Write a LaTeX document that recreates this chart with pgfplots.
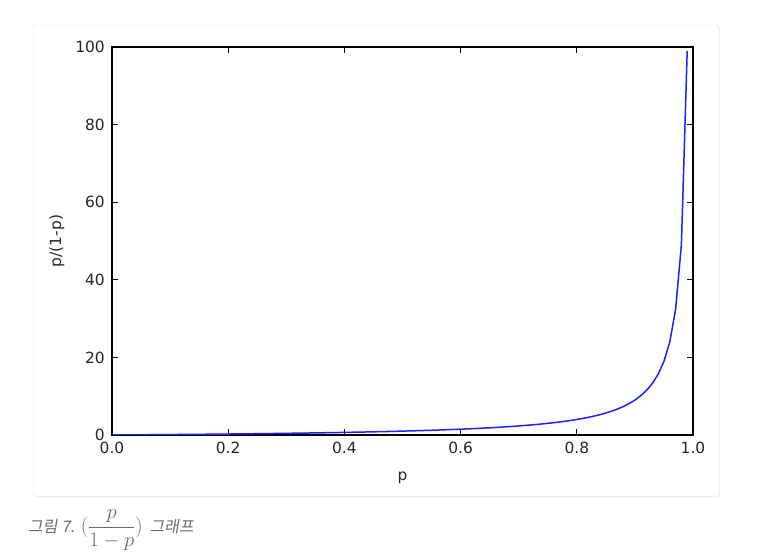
\documentclass[border=0pt]{standalone}
\usepackage[no-math]{fontspec}
\setmainfont{DejaVu Sans}
\newfontfamily\cjk[FakeSlant=0.18]{Noto Sans CJK KR}
\usepackage{amsmath}
\usepackage{pgfplots}
\pgfplotsset{compat=1.18}
\definecolor{ticktext}{HTML}{262626}
\definecolor{captext}{HTML}{6A6A6A}
\pgfplotstableread{
p r
0.00 0
0.01 0.0101
0.02 0.0204
0.03 0.0309
0.04 0.0417
0.05 0.0526
0.06 0.0638
0.07 0.0753
0.08 0.0870
0.09 0.0989
0.10 0.1111
0.11 0.1236
0.12 0.1364
0.13 0.1494
0.14 0.1628
0.15 0.1765
0.16 0.1905
0.17 0.2048
0.18 0.2195
0.19 0.2346
0.20 0.25
0.21 0.2658
0.22 0.2821
0.23 0.2987
0.24 0.3158
0.25 0.3333
0.26 0.3514
0.27 0.3699
0.28 0.3889
0.29 0.4085
0.30 0.4286
0.31 0.4493
0.32 0.4706
0.33 0.4925
0.34 0.5152
0.35 0.5385
0.36 0.5625
0.37 0.5873
0.38 0.6129
0.39 0.6393
0.40 0.6667
0.41 0.6949
0.42 0.7241
0.43 0.7544
0.44 0.7857
0.45 0.8182
0.46 0.8519
0.47 0.8868
0.48 0.9231
0.49 0.9608
0.50 1.0000
0.51 1.0408
0.52 1.0833
0.53 1.1277
0.54 1.1739
0.55 1.2222
0.56 1.2727
0.57 1.3256
0.58 1.3810
0.59 1.4390
0.60 1.5000
0.61 1.5641
0.62 1.6316
0.63 1.7027
0.64 1.7778
0.65 1.8571
0.66 1.9412
0.67 2.0303
0.68 2.1250
0.69 2.2258
0.70 2.3333
0.71 2.4483
0.72 2.5714
0.73 2.7037
0.74 2.8462
0.75 3.0000
0.76 3.1667
0.77 3.3478
0.78 3.5455
0.79 3.7619
0.80 4.0000
0.81 4.2632
0.82 4.5556
0.83 4.8824
0.84 5.2500
0.85 5.6667
0.86 6.1429
0.87 6.6923
0.88 7.3333
0.89 8.0909
0.90 9.0000
0.91 10.111
0.92 11.500
0.93 13.286
0.94 15.667
0.95 19.000
0.96 24.000
0.97 32.333
0.98 49.000
0.99 99.000
}\oddstable
\begin{document}
\begin{tikzpicture}[x=1bp,y=1bp]
\useasboundingbox[fill=white] (0,0) rectangle (784,556);
% card
\fill[black!6,rounded corners=3bp] (33,58.5) rectangle (720,531);
\filldraw[fill=white,draw=black!9,rounded corners=3bp] (33,60) rectangle (719,531);
\begin{axis}[
  at={(112bp,121bp)}, anchor=south west,
  width=581bp, height=388bp, scale only axis,
  xmin=0, xmax=1, ymin=0, ymax=100,
  xtick={0,0.2,0.4,0.6,0.8,1.0},
  ytick={0,20,40,60,80,100},
  x tick label style={/pgf/number format/fixed, /pgf/number format/fixed zerofill, /pgf/number format/precision=1, yshift=-7bp},
  /pgf/number format/assume math mode=true,
  tick align=inside,
  major tick length=6bp,
  axis line style={black, line width=1.1bp},
  tick style={black, line width=0.8bp},
  tick label style={font=\fontsize{15.5}{18}\selectfont, text=ticktext, inner sep=0pt},
  y tick label style={xshift=-7bp},
  label style={font=\fontsize{15.5}{18}\selectfont, text=ticktext},
  xlabel={p}, ylabel={p/(1-p)},
  xlabel style={at={(axis description cs:0.5,-0.111)}, anchor=center, inner sep=0pt},
  ylabel style={at={(axis description cs:-0.0947,0.5)}, anchor=center, inner sep=0pt},
  clip=true,
]
\addplot[color={rgb,1:red,0.12;green,0.12;blue,1}, line width=1.5bp, no marks] table[x=p,y=r] {\oddstable};
\end{axis}
\node[anchor=west, inner sep=0pt, text=captext] at (28,26)
  {\cjk\fontsize{16}{19}\selectfont 그림\hspace{4bp}7.\hspace{6bp}\fontsize{22}{26}\selectfont$(\dfrac{p}{1-p})$\hspace{7bp}{\fontsize{16}{19}\selectfont 그래프}};
\end{tikzpicture}
\end{document}
